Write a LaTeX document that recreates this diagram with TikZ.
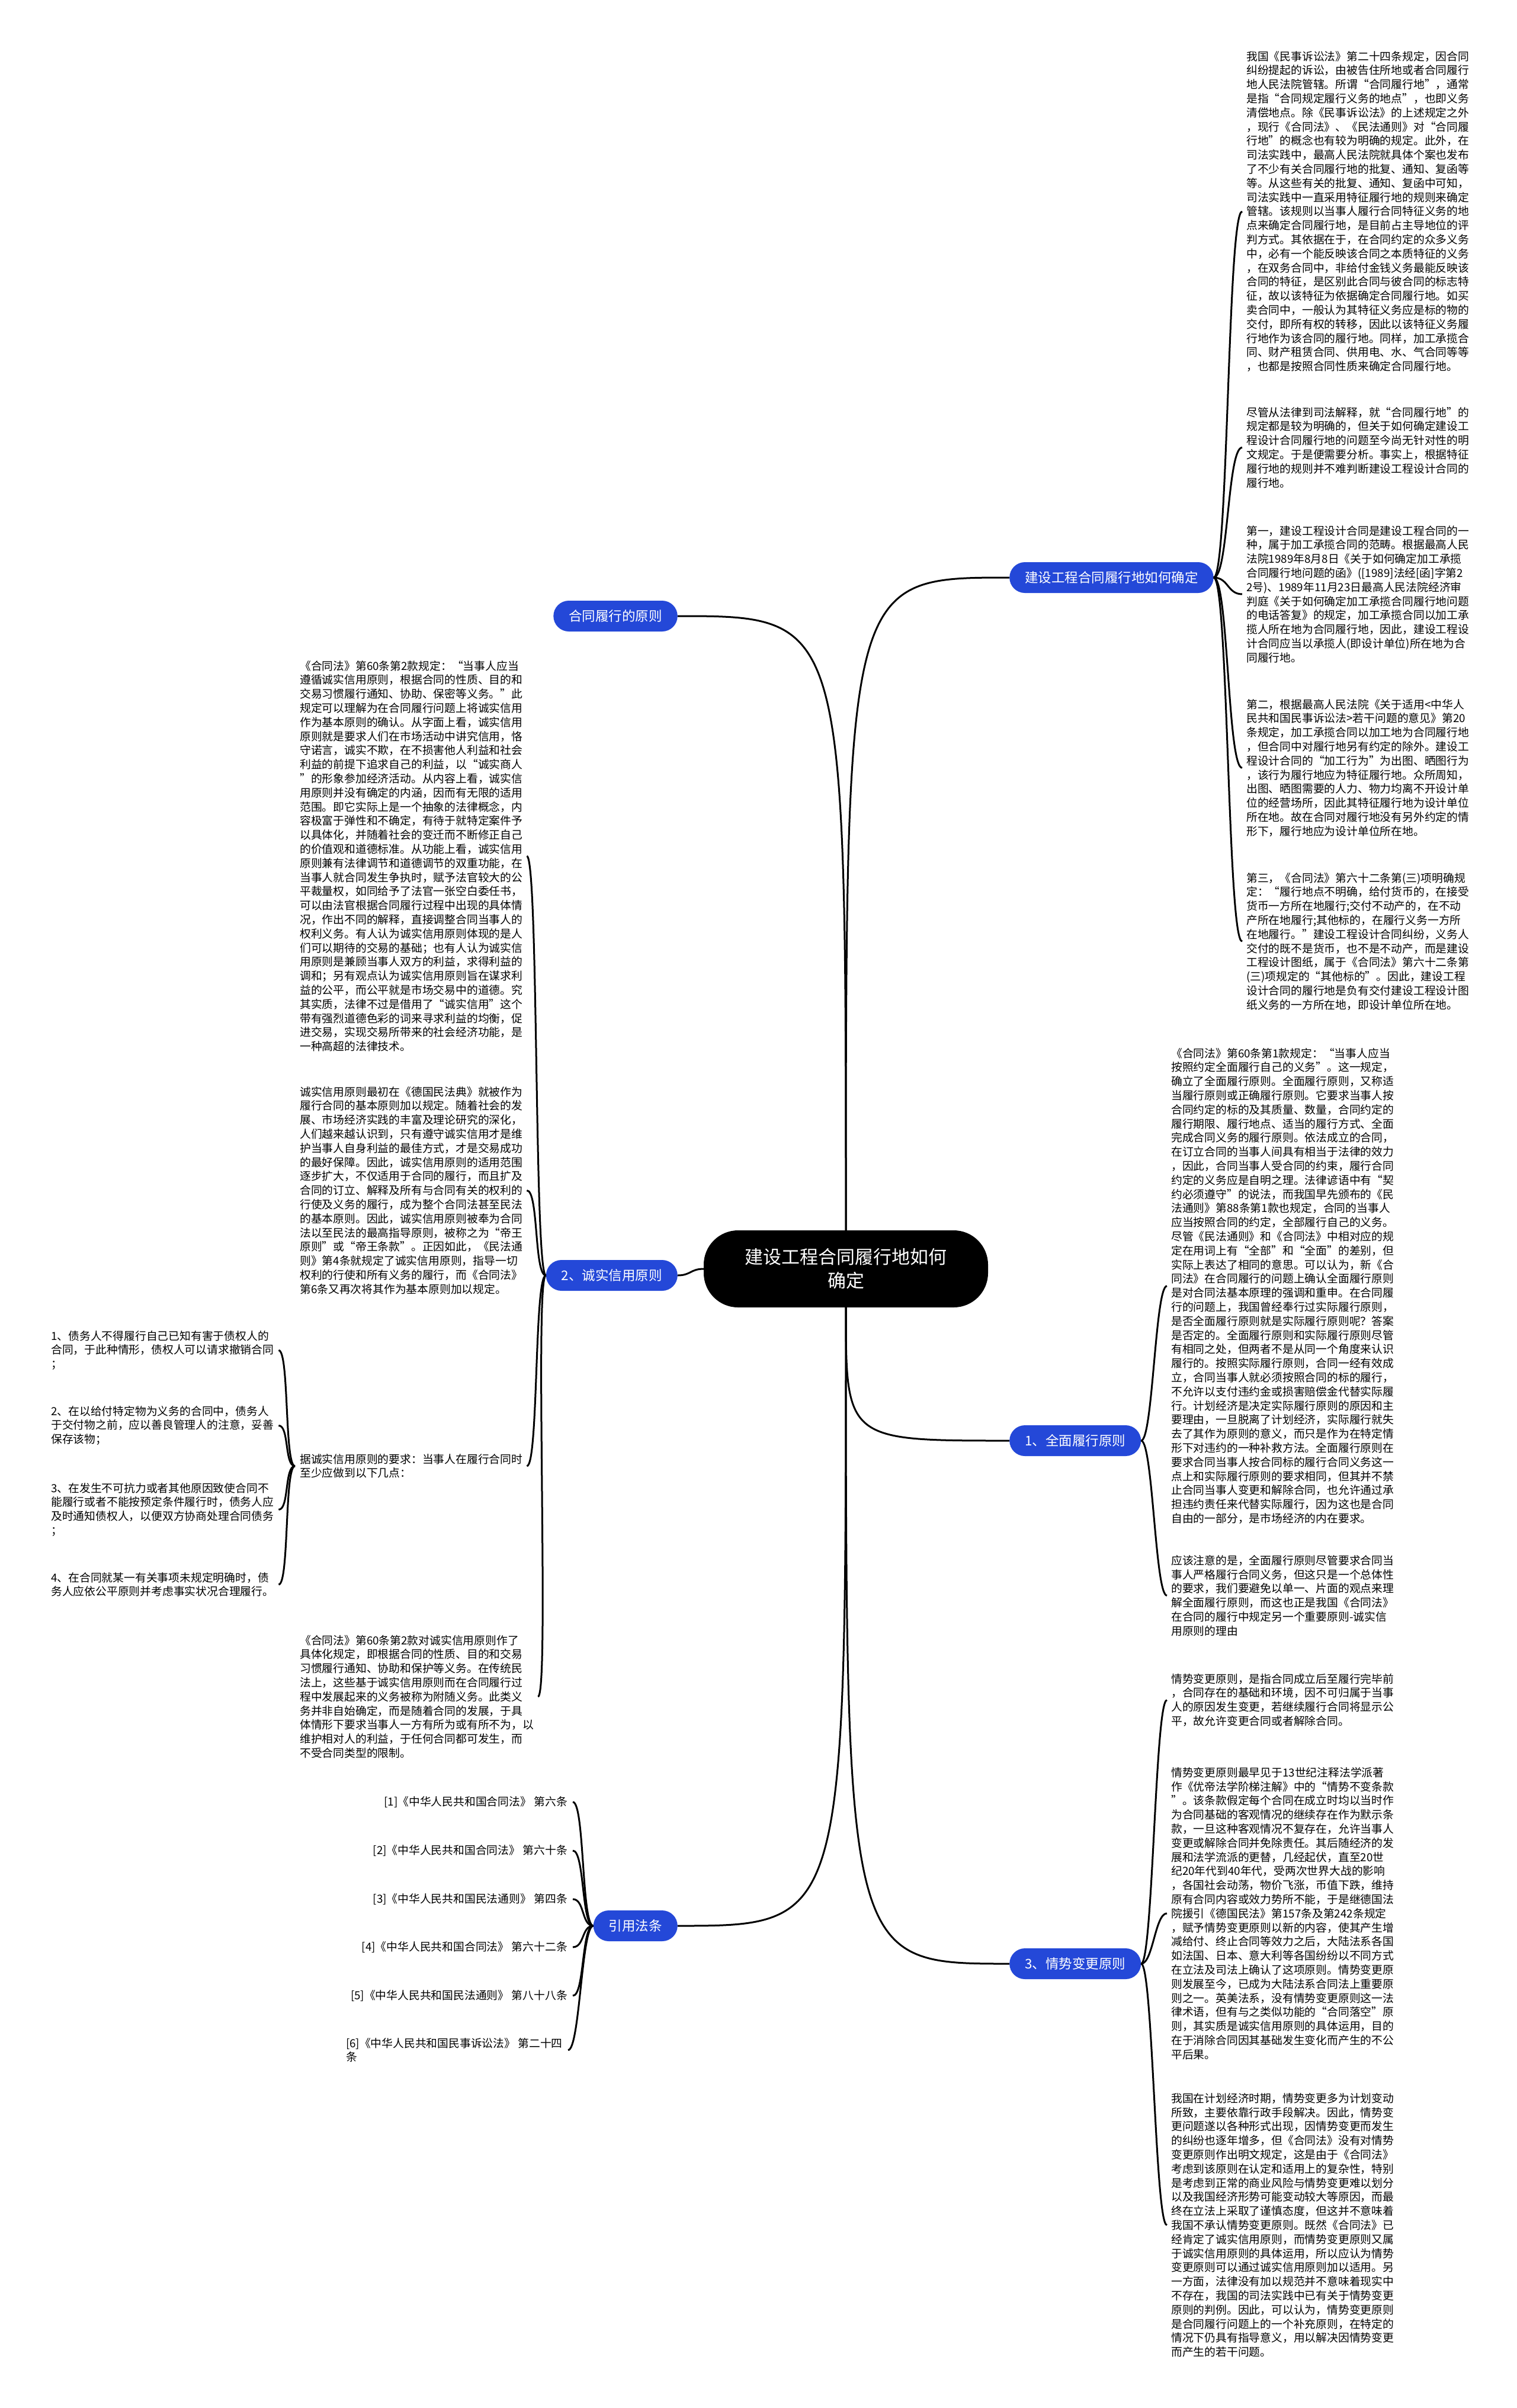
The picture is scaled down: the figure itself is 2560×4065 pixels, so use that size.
\documentclass[tikz,border=0pt]{standalone}
\usepackage{fontspec}
\setmainfont{Noto Sans CJK SC}
\usepackage{tikz}
\usetikzlibrary{positioning}
\definecolor{topicblue}{RGB}{36,72,216}
\newcommand{\leaffont}{\fontsize{18.8pt}{23.8pt}\selectfont}
\newcommand{\topicfont}{\fontsize{22.5pt}{27pt}\selectfont}
\newcommand{\hubfont}{\fontsize{31pt}{40pt}\selectfont}

\begin{document}
\begin{tikzpicture}[x=1pt,y=-1pt,
    hub/.style={fill=black,text=white,rounded corners=58pt,minimum width=480pt,minimum height=130pt,align=center,font=\hubfont},
    topic/.style={fill=topicblue,text=white,rounded corners=26pt,minimum height=52pt,inner xsep=26pt,font=\topicfont},
    leaf/.style={align=left,inner sep=0pt,font=\leaffont,anchor=north west},
    cite/.style={inner sep=0pt,font=\leaffont,anchor=east},
    link/.style={line width=3pt}]
\fill[white] (0,0) rectangle (2560,4065);
\useasboundingbox (0,0) rectangle (2560,4065);

% centre and main topics
\node[hub] (hub) at (1428,2142) {建设工程合同履行地如何\\确定};
\node[topic,anchor=west] (place) at (1704,975) {建设工程合同履行地如何确定};
\node[topic,anchor=east] (rule) at (1144,1040) {合同履行的原则};
\node[topic,anchor=east] (honest) at (1144,2153) {2、诚实信用原则};
\node[topic,anchor=west] (full) at (1704,2432) {1、全面履行原则};
\node[topic,anchor=east] (cites) at (1144,3251) {引用法条};
\node[topic,anchor=west] (change) at (1704,3315) {3、情势变更原则};

% right side texts
\node[leaf] (r1) at (2104,86) {我国《民事诉讼法》第二十四条规定，因合同\\
纠纷提起的诉讼，由被告住所地或者合同履行\\
地人民法院管辖。所谓“合同履行地”，通常\\
是指“合同规定履行义务的地点”，也即义务\\
清偿地点。除《民事诉讼法》的上述规定之外\\
，现行《合同法》、《民法通则》对“合同履\\
行地”的概念也有较为明确的规定。此外，在\\
司法实践中，最高人民法院就具体个案也发布\\
了不少有关合同履行地的批复、通知、复函等\\
等。从这些有关的批复、通知、复函中可知，\\
司法实践中一直采用特征履行地的规则来确定\\
管辖。该规则以当事人履行合同特征义务的地\\
点来确定合同履行地，是目前占主导地位的评\\
判方式。其依据在于，在合同约定的众多义务\\
中，必有一个能反映该合同之本质特征的义务\\
，在双务合同中，非给付金钱义务最能反映该\\
合同的特征，是区别此合同与彼合同的标志特\\
征，故以该特征为依据确定合同履行地。如买\\
卖合同中，一般认为其特征义务应是标的物的\\
交付，即所有权的转移，因此以该特征义务履\\
行地作为该合同的履行地。同样，加工承揽合\\
同、财产租赁合同、供用电、水、气合同等等\\
，也都是按照合同性质来确定合同履行地。};
\node[leaf] (r2) at (2104,687) {尽管从法律到司法解释，就“合同履行地”的\\
规定都是较为明确的，但关于如何确定建设工\\
程设计合同履行地的问题至今尚无针对性的明\\
文规定。于是便需要分析。事实上，根据特征\\
履行地的规则并不难判断建设工程设计合同的\\
履行地。};
\node[leaf] (r3) at (2104,887) {第一，建设工程设计合同是建设工程合同的一\\
种，属于加工承揽合同的范畴。根据最高人民\\
法院1989年8月8日《关于如何确定加工承揽\\
合同履行地问题的函》([1989]法经[函]字第2\\
2号)、1989年11月23日最高人民法院经济审\\
判庭《关于如何确定加工承揽合同履行地问题\\
的电话答复》的规定，加工承揽合同以加工承\\
揽人所在地为合同履行地，因此，建设工程设\\
计合同应当以承揽人(即设计单位)所在地为合\\
同履行地。};
\node[leaf] (r4) at (2104,1180) {第二，根据最高人民法院《关于适用<中华人\\
民共和国民事诉讼法>若干问题的意见》第20\\
条规定，加工承揽合同以加工地为合同履行地\\
，但合同中对履行地另有约定的除外。建设工\\
程设计合同的“加工行为”为出图、晒图行为\\
，该行为履行地应为特征履行地。众所周知，\\
出图、晒图需要的人力、物力均离不开设计单\\
位的经营场所，因此其特征履行地为设计单位\\
所在地。故在合同对履行地没有另外约定的情\\
形下，履行地应为设计单位所在地。};
\node[leaf] (r5) at (2104,1473) {第三，《合同法》第六十二条第(三)项明确规\\
定：“履行地点不明确，给付货币的，在接受\\
货币一方所在地履行;交付不动产的，在不动\\
产所在地履行;其他标的，在履行义务一方所\\
在地履行。”建设工程设计合同纠纷，义务人\\
交付的既不是货币，也不是不动产，而是建设\\
工程设计图纸，属于《合同法》第六十二条第\\
(三)项规定的“其他标的”。因此，建设工程\\
设计合同的履行地是负有交付建设工程设计图\\
纸义务的一方所在地，即设计单位所在地。};

\node[leaf] (r6) at (1977,1769) {《合同法》第60条第1款规定：“当事人应当\\
按照约定全面履行自己的义务”。这一规定，\\
确立了全面履行原则。全面履行原则，又称适\\
当履行原则或正确履行原则。它要求当事人按\\
合同约定的标的及其质量、数量，合同约定的\\
履行期限、履行地点、适当的履行方式、全面\\
完成合同义务的履行原则。依法成立的合同，\\
在订立合同的当事人间具有相当于法律的效力\\
，因此，合同当事人受合同的约束，履行合同\\
约定的义务应是自明之理。法律谚语中有“契\\
约必须遵守”的说法，而我国早先颁布的《民\\
法通则》第88条第1款也规定，合同的当事人\\
应当按照合同的约定，全部履行自己的义务。\\
尽管《民法通则》和《合同法》中相对应的规\\
定在用词上有“全部”和“全面”的差别，但\\
实际上表达了相同的意思。可以认为，新《合\\
同法》在合同履行的问题上确认全面履行原则\\
是对合同法基本原理的强调和重申。在合同履\\
行的问题上，我国曾经奉行过实际履行原则，\\
是否全面履行原则就是实际履行原则呢？答案\\
是否定的。全面履行原则和实际履行原则尽管\\
有相同之处，但两者不是从同一个角度来认识\\
履行的。按照实际履行原则，合同一经有效成\\
立，合同当事人就必须按照合同的标的履行，\\
不允许以支付违约金或损害赔偿金代替实际履\\
行。计划经济是决定实际履行原则的原因和主\\
要理由，一旦脱离了计划经济，实际履行就失\\
去了其作为原则的意义，而只是作为在特定情\\
形下对违约的一种补救方法。全面履行原则在\\
要求合同当事人按合同标的履行合同义务这一\\
点上和实际履行原则的要求相同，但其并不禁\\
止合同当事人变更和解除合同，也允许通过承\\
担违约责任来代替实际履行，因为这也是合同\\
自由的一部分，是市场经济的内在要求。};
\node[leaf] (r7) at (1977,2625) {应该注意的是，全面履行原则尽管要求合同当\\
事人严格履行合同义务，但这只是一个总体性\\
的要求，我们要避免以单一、片面的观点来理\\
解全面履行原则，而这也正是我国《合同法》\\
在合同的履行中规定另一个重要原则-诚实信\\
用原则的理由};

\node[leaf] (r8) at (1977,2825) {情势变更原则，是指合同成立后至履行完毕前\\
，合同存在的基础和环境，因不可归属于当事\\
人的原因发生变更，若继续履行合同将显示公\\
平，故允许变更合同或者解除合同。};
\node[leaf] (r9) at (1977,2983) {情势变更原则最早见于13世纪注释法学派著\\
作《优帝法学阶梯注解》中的“情势不变条款\\
”。该条款假定每个合同在成立时均以当时作\\
为合同基础的客观情况的继续存在作为默示条\\
款，一旦这种客观情况不复存在，允许当事人\\
变更或解除合同并免除责任。其后随经济的发\\
展和法学流派的更替，几经起伏，直至20世\\
纪20年代到40年代，受两次世界大战的影响\\
，各国社会动荡，物价飞涨，币值下跌，维持\\
原有合同内容或效力势所不能，于是继德国法\\
院援引《德国民法》第157条及第242条规定\\
，赋予情势变更原则以新的内容，使其产生增\\
减给付、终止合同等效力之后，大陆法系各国\\
如法国、日本、意大利等各国纷纷以不同方式\\
在立法及司法上确认了这项原则。情势变更原\\
则发展至今，已成为大陆法系合同法上重要原\\
则之一。英美法系，没有情势变更原则这一法\\
律术语，但有与之类似功能的“合同落空”原\\
则，其实质是诚实信用原则的具体运用，目的\\
在于消除合同因其基础发生变化而产生的不公\\
平后果。};
\node[leaf] (r10) at (1977,3533) {我国在计划经济时期，情势变更多为计划变动\\
所致，主要依靠行政手段解决。因此，情势变\\
更问题遂以各种形式出现，因情势变更而发生\\
的纠纷也逐年增多，但《合同法》没有对情势\\
变更原则作出明文规定，这是由于《合同法》\\
考虑到该原则在认定和适用上的复杂性，特别\\
是考虑到正常的商业风险与情势变更难以划分\\
以及我国经济形势可能变动较大等原因，而最\\
终在立法上采取了谨慎态度，但这并不意味着\\
我国不承认情势变更原则。既然《合同法》已\\
经肯定了诚实信用原则，而情势变更原则又属\\
于诚实信用原则的具体运用，所以应认为情势\\
变更原则可以通过诚实信用原则加以适用。另\\
一方面，法律没有加以规范并不意味着现实中\\
不存在，我国的司法实践中已有关于情势变更\\
原则的判例。因此，可以认为，情势变更原则\\
是合同履行问题上的一个补充原则，在特定的\\
情况下仍具有指导意义，用以解决因情势变更\\
而产生的若干问题。};

% left side texts
\node[leaf] (l1) at (506,1115) {《合同法》第60条第2款规定：“当事人应当\\
遵循诚实信用原则，根据合同的性质、目的和\\
交易习惯履行通知、协助、保密等义务。”此\\
规定可以理解为在合同履行问题上将诚实信用\\
作为基本原则的确认。从字面上看，诚实信用\\
原则就是要求人们在市场活动中讲究信用，恪\\
守诺言，诚实不欺，在不损害他人利益和社会\\
利益的前提下追求自己的利益，以“诚实商人\\
”的形象参加经济活动。从内容上看，诚实信\\
用原则并没有确定的内涵，因而有无限的适用\\
范围。即它实际上是一个抽象的法律概念，内\\
容极富于弹性和不确定，有待于就特定案件予\\
以具体化，并随着社会的变迁而不断修正自己\\
的价值观和道德标准。从功能上看，诚实信用\\
原则兼有法律调节和道德调节的双重功能，在\\
当事人就合同发生争执时，赋予法官较大的公\\
平裁量权，如同给予了法官一张空白委任书，\\
可以由法官根据合同履行过程中出现的具体情\\
况，作出不同的解释，直接调整合同当事人的\\
权利义务。有人认为诚实信用原则体现的是人\\
们可以期待的交易的基础；也有人认为诚实信\\
用原则是兼顾当事人双方的利益，求得利益的\\
调和；另有观点认为诚实信用原则旨在谋求利\\
益的公平，而公平就是市场交易中的道德。究\\
其实质，法律不过是借用了“诚实信用”这个\\
带有强烈道德色彩的词来寻求利益的均衡，促\\
进交易，实现交易所带来的社会经济功能，是\\
一种高超的法律技术。};
\node[leaf] (l2) at (506,1834) {诚实信用原则最初在《德国民法典》就被作为\\
履行合同的基本原则加以规定。随着社会的发\\
展、市场经济实践的丰富及理论研究的深化，\\
人们越来越认识到，只有遵守诚实信用才是维\\
护当事人自身利益的最佳方式，才是交易成功\\
的最好保障。因此，诚实信用原则的适用范围\\
逐步扩大，不仅适用于合同的履行，而且扩及\\
合同的订立、解释及所有与合同有关的权利的\\
行使及义务的履行，成为整个合同法甚至民法\\
的基本原则。因此，诚实信用原则被奉为合同\\
法以至民法的最高指导原则，被称之为“帝王\\
原则”或“帝王条款”。正因如此，《民法通\\
则》第4条就规定了诚实信用原则，指导一切\\
权利的行使和所有义务的履行，而《合同法》\\
第6条又再次将其作为基本原则加以规定。};
\node[leaf] (l3) at (506,2454) {据诚实信用原则的要求：当事人在履行合同时\\
至少应做到以下几点：};
\node[leaf] (l4) at (506,2760) {《合同法》第60条第2款对诚实信用原则作了\\
具体化规定，即根据合同的性质、目的和交易\\
习惯履行通知、协助和保护等义务。在传统民\\
法上，这些基于诚实信用原则而在合同履行过\\
程中发展起来的义务被称为附随义务。此类义\\
务并非自始确定，而是随着合同的发展，于具\\
体情形下要求当事人一方有所为或有所不为，以\\
维护相对人的利益，于任何合同都可发生，而\\
不受合同类型的限制。};

\node[leaf] (p1) at (86,2246) {1、债务人不得履行自己已知有害于债权人的\\
合同，于此种情形，债权人可以请求撤销合同\\
；};
\node[leaf] (p2) at (86,2373) {2、在以给付特定物为义务的合同中，债务人\\
于交付物之前，应以善良管理人的注意，妥善\\
保存该物；};
\node[leaf] (p3) at (86,2503) {3、在发生不可抗力或者其他原因致使合同不\\
能履行或者不能按预定条件履行时，债务人应\\
及时通知债权人，以便双方协商处理合同债务\\
；};
\node[leaf] (p4) at (86,2654) {4、在合同就某一有关事项未规定明确时，债\\
务人应依公平原则并考虑事实状况合理履行。};

% cited laws
\node[cite] (c1) at (958,3042) {[1]《中华人民共和国合同法》 第六条};
\node[cite] (c2) at (958,3124) {[2]《中华人民共和国合同法》 第六十条};
\node[cite] (c3) at (958,3206) {[3]《中华人民共和国民法通则》 第四条};
\node[cite] (c4) at (958,3287) {[4]《中华人民共和国合同法》 第六十二条};
\node[cite] (c5) at (958,3369) {[5]《中华人民共和国民法通则》 第八十八条};
\node[cite,align=left,anchor=north east] (c6) at (950,3440) {[6]《中华人民共和国民事诉讼法》 第二十四\\条};

% links from the centre
\draw[link] (hub.north) .. controls (hub.north |- place.west) .. (place.west);
\draw[link] (hub.north) .. controls (hub.north |- rule.east) .. (rule.east);
\draw[link] (hub.west) .. controls +(-22,0) and +(22,0) .. (honest.east);
\draw[link] (hub.south) .. controls (hub.south |- full.west) .. (full.west);
\draw[link] (hub.south) .. controls (hub.south |- change.west) .. (change.west);
\draw[link] (hub.south) .. controls (hub.south |- cites.east) .. (cites.east);

% links to the texts
\foreach \n in {r1,r2,r3,r4,r5}
  \draw[link] (place.east) .. controls +(25,0) and +(-25,0) .. ([xshift=-7pt]\n.west);
\foreach \n in {r6,r7}
  \draw[link] (full.east) .. controls +(20,0) and +(-20,0) .. ([xshift=-7pt]\n.west);
\foreach \n in {r8,r9,r10}
  \draw[link] (change.east) .. controls +(20,0) and +(-20,0) .. ([xshift=-7pt]\n.west);
\foreach \n in {l1,l2,l3,l4}
  \draw[link] (honest.west) .. controls +(-20,0) and +(20,0) .. ([xshift=7pt]\n.east);
\foreach \n in {p1,p2,p3,p4}
  \draw[link] ([xshift=-8pt]l3.west) .. controls +(-18,0) and +(18,0) .. ([xshift=8pt]\n.east);
\foreach \n in {c1,c2,c3,c4,c5,c6}
  \draw[link] (cites.west) .. controls +(-20,0) and +(20,0) .. ([xshift=9pt]\n.east);
\end{tikzpicture}
\end{document}
